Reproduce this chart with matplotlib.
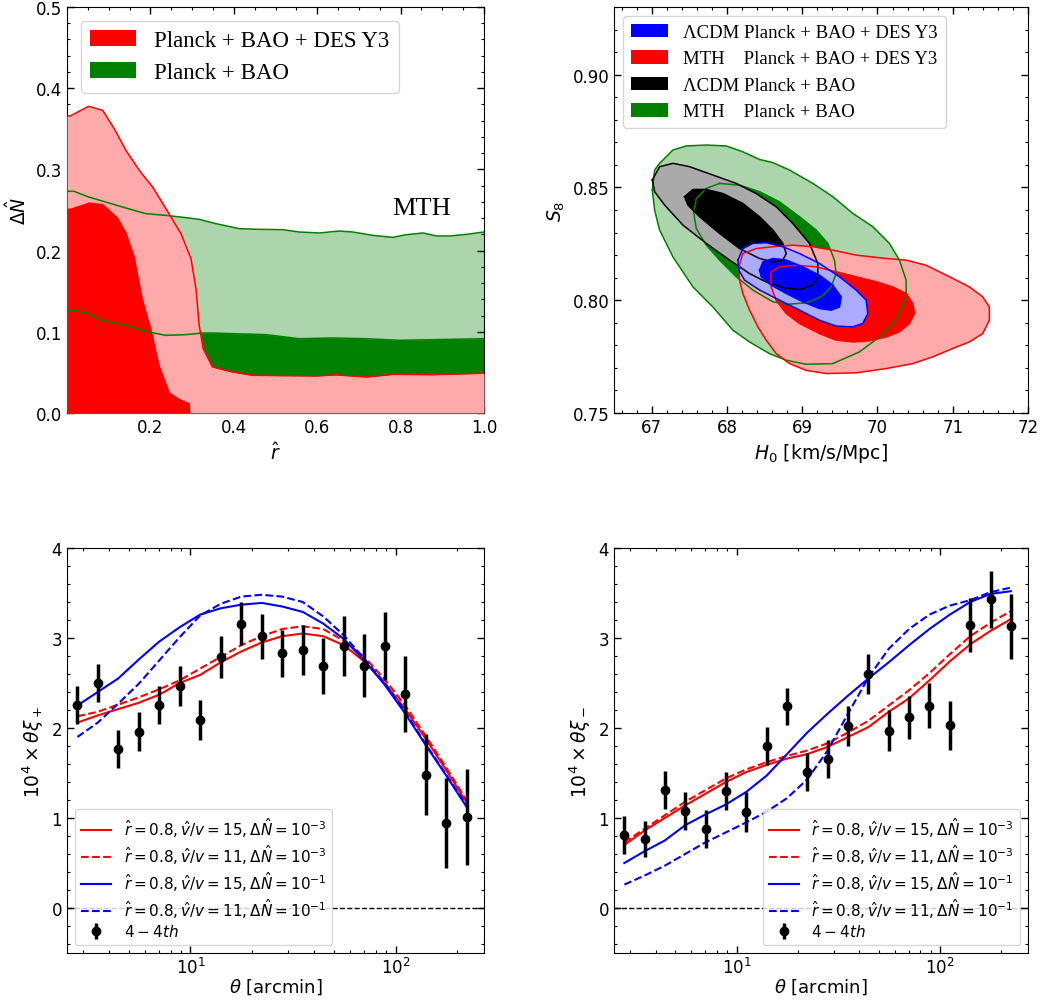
import numpy as np
import matplotlib
matplotlib.use("Agg")
import matplotlib.pyplot as plt
from matplotlib.ticker import AutoMinorLocator, MultipleLocator
from matplotlib.patches import Patch

# ---------------- Top-left: Delta N vs r ----------------
r_red_2s = [0.0, 0.0086, 0.052, 0.0857, 0.1134, 0.1413, 0.1733, 0.2053, 0.2374, 0.2734,
            0.2974, 0.3094, 0.317, 0.3267, 0.349, 0.397, 0.445, 0.518, 0.598, 0.646,
            0.718, 0.782, 0.878, 1.0]
dn_red_2s = [0.3658, 0.366, 0.3777, 0.3727, 0.350, 0.3235, 0.2989, 0.2783, 0.2516, 0.2209,
             0.190, 0.153, 0.108, 0.079, 0.0567, 0.0505, 0.0464, 0.046, 0.0456, 0.047,
             0.0443, 0.0476, 0.0472, 0.049]
r_red_1s = [0.0, 0.0086, 0.052, 0.0857, 0.121, 0.1413, 0.161, 0.181, 0.2014, 0.2214,
            0.2454, 0.27, 0.2934, 0.295]
dn_red_1s = [0.2525, 0.2525, 0.26, 0.258, 0.2414, 0.223, 0.194, 0.141, 0.104, 0.0587,
             0.0259, 0.0177, 0.0127, 0.0]
r_grn_2s = [0.0, 0.017, 0.052, 0.085, 0.141, 0.189, 0.237, 0.285, 0.317, 0.357, 0.413,
            0.461, 0.517, 0.557, 0.605, 0.653, 0.685, 0.733, 0.781, 0.814, 0.854, 0.886,
            0.918, 0.958, 1.0]
dn_grn_2s = [0.273, 0.273, 0.266, 0.261, 0.2525, 0.2455, 0.2434, 0.2406, 0.2385, 0.2332,
             0.227, 0.2262, 0.2258, 0.2229, 0.2217, 0.2241, 0.2229, 0.2188, 0.2163, 0.2196,
             0.2217, 0.218, 0.218, 0.22, 0.2229]
r_grn_1s = [0.0, 0.017, 0.052, 0.085, 0.141, 0.189, 0.237, 0.285, 0.325, 0.349, 0.397,
            0.477, 0.557, 0.637, 0.717, 0.797, 0.877, 1.0]
dn_grn_1s = [0.1256, 0.1264, 0.1223, 0.1141, 0.108, 0.1006, 0.0956, 0.0965, 0.0985, 0.0985,
             0.0977, 0.0965, 0.0915, 0.0924, 0.0915, 0.0895, 0.0903, 0.0915]

# ---------------- Top-right: S8 vs H0 contours ----------------
h0_grn_2s = [67.009, 67.040, 67.106, 67.283, 67.460, 67.726, 67.991, 68.212, 68.434, 68.611,
             68.832, 69.141, 69.407, 69.673, 69.938, 70.159, 70.292, 70.381, 70.381, 70.314,
             70.204, 70.027, 69.761, 69.407, 69.053, 68.788, 68.566, 68.301, 68.080, 67.814,
             67.549, 67.283, 67.106, 67.040]
s8_grn_2s = [0.8488, 0.8577, 0.8607, 0.8666, 0.8684, 0.8688, 0.8684, 0.8658, 0.8624, 0.8610,
             0.8577, 0.8518, 0.8459, 0.8385, 0.8326, 0.8252, 0.8178, 0.8089, 0.8030, 0.7956,
             0.7897, 0.7837, 0.7771, 0.7719, 0.7716, 0.7734, 0.7763, 0.7815, 0.7867, 0.7970,
             0.8059, 0.8192, 0.8311, 0.8399]
h0_grn_1s = [67.903, 68.168, 68.434, 68.699, 68.965, 69.186, 69.341, 69.429, 69.451, 69.385,
             69.252, 69.053, 68.788, 68.611, 68.345, 68.124, 67.903, 67.726, 67.593, 67.557,
             67.593, 67.726]
s8_grn_1s = [0.8518, 0.8510, 0.8481, 0.8436, 0.8370, 0.8311, 0.8252, 0.8178, 0.8118, 0.8059,
             0.8015, 0.7988, 0.7982, 0.7993, 0.8045, 0.8104, 0.8178, 0.8244, 0.8318, 0.8392,
             0.8451, 0.8496]
h0_blk_2s = [67.009, 67.106, 67.283, 67.504, 67.814, 68.124, 68.389, 68.655, 68.876, 69.097,
             69.208, 69.208, 69.141, 68.965, 68.743, 68.522, 68.301, 68.035, 67.726, 67.416,
             67.172, 67.040]
s8_blk_2s = [0.8533, 0.8592, 0.8607, 0.8592, 0.8555, 0.8518, 0.8473, 0.8414, 0.8340, 0.8252,
             0.8163, 0.8104, 0.8067, 0.8047, 0.8056, 0.8081, 0.8118, 0.8178, 0.8252, 0.8333,
             0.8422, 0.8481]
h0_blk_1s = [67.438, 67.549, 67.726, 67.947, 68.212, 68.434, 68.611, 68.743, 68.788, 68.743,
             68.611, 68.434, 68.168, 67.903, 67.637, 67.482]
s8_blk_1s = [0.8459, 0.8491, 0.8491, 0.8473, 0.8429, 0.8370, 0.8311, 0.8252, 0.8207, 0.8178,
             0.8170, 0.8185, 0.8229, 0.8296, 0.8370, 0.8422]
h0_blu_2s = [68.146, 68.212, 68.345, 68.522, 68.743, 68.965, 69.230, 69.496, 69.717, 69.850,
             69.872, 69.805, 69.673, 69.452, 69.230, 68.965, 68.699, 68.434, 68.234, 68.159]
s8_blu_2s = [0.8178, 0.8229, 0.8252, 0.8255, 0.8237, 0.8207, 0.8163, 0.8104, 0.8045, 0.8000,
             0.7941, 0.7897, 0.7882, 0.7885, 0.7911, 0.7956, 0.8000, 0.8045, 0.8089, 0.8133]
h0_blu_1s = [68.434, 68.478, 68.611, 68.788, 69.009, 69.230, 69.407, 69.518, 69.496, 69.385,
             69.230, 69.009, 68.788, 68.588, 68.456]
s8_blu_1s = [0.8133, 0.8170, 0.8185, 0.8178, 0.8148, 0.8111, 0.8067, 0.8015, 0.7970, 0.7956,
             0.7963, 0.7993, 0.8030, 0.8067, 0.8104]
h0_red_2s = [68.159, 68.212, 68.389, 68.611, 68.876, 69.141, 69.407, 69.717, 70.115, 70.381,
             70.646, 70.956, 71.221, 71.398, 71.487, 71.487, 71.398, 71.221, 71.000, 70.735,
             70.469, 70.115, 69.717, 69.319, 69.053, 68.832, 68.655, 68.522, 68.412, 68.301,
             68.212, 68.168]
s8_red_2s = [0.8148, 0.8207, 0.8229, 0.8237, 0.8244, 0.8237, 0.8222, 0.8200, 0.8185, 0.8178,
             0.8155, 0.8104, 0.8059, 0.8015, 0.7970, 0.7911, 0.7852, 0.7815, 0.7786, 0.7749,
             0.7719, 0.7697, 0.7678, 0.7675, 0.7689, 0.7719, 0.7763, 0.7823, 0.7882, 0.7956,
             0.8030, 0.8089]
h0_red_1s = [68.580, 68.588, 68.699, 68.920, 69.186, 69.451, 69.717, 69.982, 70.204, 70.381,
             70.469, 70.491, 70.425, 70.292, 70.115, 69.894, 69.673, 69.451, 69.230, 68.965,
             68.788, 68.655, 68.588]
s8_red_1s = [0.8104, 0.8126, 0.8148, 0.8155, 0.8148, 0.8126, 0.8104, 0.8082, 0.8059, 0.8030,
             0.7985, 0.7941, 0.7897, 0.7860, 0.7837, 0.7820, 0.7815, 0.7823, 0.7852, 0.7897,
             0.7941, 0.8000, 0.8059]

# ---------------- Bottom: shear correlation functions ----------------
theta = [2.81, 3.53, 4.44, 5.59, 7.04, 8.86, 11.15, 14.04, 17.68, 22.25,
         28.01, 35.27, 44.40, 55.89, 70.36, 88.58, 111.5, 140.4, 176.8, 222.5]

xip_data = [2.26, 2.50, 1.77, 1.96, 2.26, 2.47, 2.09, 2.79, 3.16, 3.02,
            2.83, 2.87, 2.69, 2.91, 2.69, 2.91, 2.38, 1.48, 0.95, 1.01]
xip_err = [0.21, 0.21, 0.21, 0.22, 0.21, 0.22, 0.22, 0.23, 0.24, 0.25,
           0.26, 0.28, 0.31, 0.33, 0.35, 0.38, 0.42, 0.45, 0.50, 0.53]
xip_r15_n3 = [2.06, 2.14, 2.21, 2.28, 2.37, 2.50, 2.59, 2.73, 2.85, 2.95,
              3.02, 3.05, 3.02, 2.92, 2.74, 2.50, 2.21, 1.88, 1.53, 1.17]
xip_r11_n3 = [2.13, 2.18, 2.26, 2.34, 2.43, 2.53, 2.66, 2.79, 2.92, 3.02,
              3.10, 3.13, 3.10, 2.97, 2.79, 2.54, 2.25, 1.91, 1.56, 1.19]
xip_r15_n1 = [2.25, 2.40, 2.55, 2.76, 2.96, 3.12, 3.26, 3.33, 3.37, 3.39,
              3.35, 3.29, 3.16, 2.99, 2.75, 2.48, 2.16, 1.81, 1.47, 1.12]
xip_r11_n1 = [1.90, 2.06, 2.27, 2.49, 2.75, 3.01, 3.25, 3.38, 3.46, 3.48,
              3.46, 3.40, 3.24, 3.03, 2.77, 2.50, 2.18, 1.82, 1.48, 1.14]

xim_data = [0.81, 0.77, 1.31, 1.08, 0.88, 1.30, 1.07, 1.80, 2.24, 1.51,
            1.66, 2.02, 2.60, 1.97, 2.12, 2.25, 2.03, 3.14, 3.43, 3.13]
xim_err = [0.21, 0.20, 0.21, 0.21, 0.21, 0.21, 0.22, 0.21, 0.21, 0.21,
           0.21, 0.22, 0.22, 0.23, 0.24, 0.25, 0.27, 0.30, 0.32, 0.36]
xim_r15_n3 = [0.70, 0.86, 1.00, 1.14, 1.27, 1.40, 1.51, 1.59, 1.66, 1.71,
              1.79, 1.90, 2.01, 2.18, 2.33, 2.53, 2.74, 2.93, 3.08, 3.21]
xim_r11_n3 = [0.73, 0.88, 1.03, 1.18, 1.31, 1.44, 1.54, 1.62, 1.69, 1.75,
              1.83, 1.95, 2.08, 2.25, 2.42, 2.61, 2.82, 3.02, 3.17, 3.30]
xim_r15_n1 = [0.50, 0.63, 0.75, 0.92, 1.04, 1.15, 1.29, 1.47, 1.71, 1.95,
              2.16, 2.36, 2.55, 2.73, 2.92, 3.10, 3.26, 3.40, 3.49, 3.52]
xim_r11_n1 = [0.26, 0.36, 0.47, 0.60, 0.73, 0.84, 0.95, 1.07, 1.22, 1.43,
              1.75, 2.16, 2.56, 2.88, 3.10, 3.26, 3.36, 3.42, 3.51, 3.56]

model_labels = [r"$\hat{r}=0.8, \hat{v}/v=15, \Delta\hat{N}=10^{-3}$",
                r"$\hat{r}=0.8, \hat{v}/v=11, \Delta\hat{N}=10^{-3}$",
                r"$\hat{r}=0.8, \hat{v}/v=15, \Delta\hat{N}=10^{-1}$",
                r"$\hat{r}=0.8, \hat{v}/v=11, \Delta\hat{N}=10^{-1}$"]
data_label = r"$4-4th$"

# colours
PINK = "#FFAAAA"
LGREEN = "#ACD5AC"
GREY = "#AAAAAA"
LBLUE = "#AAAAFF"
DGREEN = "#008000"

SERIF = ["Liberation Serif", "DejaVu Serif"]
TICK_FS = 12
LABEL_FS = 13.5

fig = plt.figure(figsize=(10.46, 10.03), dpi=100)

W, H = 1046.0, 1003.0
def axes_px(x0, x1, y0, y1):
    return fig.add_axes([x0 / W, 1 - y1 / H, (x1 - x0) / W, (y1 - y0) / H])

ax1 = axes_px(67, 484, 8, 414)
ax2 = axes_px(614, 1028, 8, 414)
ax3 = axes_px(67, 484, 549, 954)
ax4 = axes_px(614, 1028, 549, 954)

def style(ax):
    ax.tick_params(which="both", direction="in", top=True, right=True, labelsize=TICK_FS)
    ax.tick_params(which="major", length=5, width=1)
    ax.tick_params(which="minor", length=2.5, width=0.8)

# --- Top-left ---
ax1.fill_between(r_grn_2s, 0, dn_grn_2s, color=LGREEN, lw=0, zorder=1)
ax1.fill_between(r_grn_1s, 0, dn_grn_1s, color=DGREEN, lw=0, zorder=2)
ax1.fill_between(r_red_2s, 0, dn_red_2s, color=PINK, lw=0, zorder=3)
ax1.fill_between(r_red_1s, 0, dn_red_1s, color="red", lw=0, zorder=4)
ax1.plot(r_grn_2s, dn_grn_2s, color=DGREEN, lw=1.1, zorder=5)
ax1.plot(r_grn_1s, dn_grn_1s, color=DGREEN, lw=1.1, zorder=5)
ax1.plot(r_red_2s, dn_red_2s, color="red", lw=1.1, zorder=6)
ax1.set_xlim(0.0, 1.0)
ax1.set_ylim(0.0, 0.5)
ax1.set_xticks([0.2, 0.4, 0.6, 0.8, 1.0])
ax1.xaxis.set_minor_locator(MultipleLocator(0.05))
ax1.yaxis.set_major_locator(MultipleLocator(0.1))
ax1.yaxis.set_minor_locator(MultipleLocator(0.02))
ax1.set_xlabel(r"$\hat{r}$", fontsize=LABEL_FS)
ax1.set_ylabel(r"$\Delta\hat{N}$", fontsize=LABEL_FS)
ax1.text(0.85, 0.2525, "MTH", fontsize=19, family=SERIF, ha="center", va="center", zorder=7)
h1 = [Patch(facecolor="red", edgecolor="none"), Patch(facecolor=DGREEN, edgecolor="none")]
ax1.legend(h1, ["Planck + BAO + DES Y3", "Planck + BAO"], loc="upper left",
           prop={"family": SERIF, "size": 16.5}, borderaxespad=0.6)
style(ax1)

# --- Top-right ---
ax2.fill(h0_grn_2s, s8_grn_2s, color=LGREEN, lw=0, zorder=1)
ax2.fill(h0_grn_1s, s8_grn_1s, color=DGREEN, lw=0, zorder=2)
ax2.fill(h0_blk_2s, s8_blk_2s, color=GREY, lw=0, zorder=3)
ax2.fill(h0_blk_1s, s8_blk_1s, color="black", lw=0, zorder=4)
ax2.fill(h0_red_2s, s8_red_2s, color=PINK, lw=0, zorder=5)
ax2.fill(h0_red_1s, s8_red_1s, color="red", lw=0, zorder=6)
ax2.fill(h0_blu_2s, s8_blu_2s, color=LBLUE, lw=0, zorder=7)
ax2.fill(h0_blu_1s, s8_blu_1s, color="blue", lw=0, zorder=8)
for hx, sy, c in [(h0_grn_2s, s8_grn_2s, DGREEN), (h0_grn_1s, s8_grn_1s, DGREEN),
                  (h0_blk_2s, s8_blk_2s, "black"), (h0_blk_1s, s8_blk_1s, "black"),
                  (h0_red_2s, s8_red_2s, "red"), (h0_red_1s, s8_red_1s, "red"),
                  (h0_blu_2s, s8_blu_2s, "blue"), (h0_blu_1s, s8_blu_1s, "blue")]:
    ax2.plot(list(hx) + [hx[0]], list(sy) + [sy[0]], color=c, lw=1.1, zorder=9)
ax2.set_xlim(66.5, 72.0)
ax2.set_ylim(0.75, 0.93)
ax2.xaxis.set_major_locator(MultipleLocator(1))
ax2.xaxis.set_minor_locator(MultipleLocator(0.2))
ax2.yaxis.set_major_locator(MultipleLocator(0.05))
ax2.yaxis.set_minor_locator(MultipleLocator(0.01))
ax2.set_xlabel(r"$H_0$ [km/s/Mpc]", fontsize=LABEL_FS)
ax2.set_ylabel(r"$S_8$", fontsize=LABEL_FS)
h2 = [Patch(facecolor=c, edgecolor="none") for c in ["blue", "red", "black", DGREEN]]
lab2 = ["ΛCDM Planck + BAO + DES Y3", "MTH    Planck + BAO + DES Y3",
        "ΛCDM Planck + BAO", "MTH    Planck + BAO"]
ax2.legend(h2, lab2, loc="upper left", prop={"family": SERIF, "size": 13.5},
           borderaxespad=0.5, labelspacing=0.5)
style(ax2)

# --- Bottom panels ---
def xi_panel(ax, data, err, m1, m2, m3, m4, ylabel, legloc):
    ax.axhline(0, color="black", ls="--", lw=1, zorder=1)
    ax.plot(theta, m1, color="red", ls="-", lw=1.5, label=model_labels[0], zorder=3)
    ax.plot(theta, m2, color="red", ls="--", lw=1.5, label=model_labels[1], zorder=3)
    ax.plot(theta, m3, color="blue", ls="-", lw=1.5, label=model_labels[2], zorder=3)
    ax.plot(theta, m4, color="blue", ls="--", lw=1.5, label=model_labels[3], zorder=3)
    ax.errorbar(theta, data, yerr=err, fmt="o", color="black", ms=6, elinewidth=2.5,
                capsize=0, label=data_label, zorder=4)
    ax.set_xscale("log")
    ax.set_xlim(2.5, 270)
    ax.set_ylim(-0.5, 4.0)
    ax.yaxis.set_major_locator(MultipleLocator(1))
    ax.yaxis.set_minor_locator(MultipleLocator(0.2))
    ax.set_xlabel(r"$\theta$ [arcmin]", fontsize=13, labelpad=0)
    ax.set_ylabel(ylabel, fontsize=LABEL_FS)
    ax.legend(loc=legloc, fontsize=11, labelspacing=0.2, handlelength=2.0)
    style(ax)
    ax.tick_params(axis="x", which="major", pad=2.5)

xi_panel(ax3, xip_data, xip_err, xip_r15_n3, xip_r11_n3, xip_r15_n1, xip_r11_n1,
         r"$10^4\times\theta\xi_+$", "lower left")
xi_panel(ax4, xim_data, xim_err, xim_r15_n3, xim_r11_n3, xim_r15_n1, xim_r11_n1,
         r"$10^4\times\theta\xi_-$", "lower right")

fig.savefig("out.png", dpi=100)
